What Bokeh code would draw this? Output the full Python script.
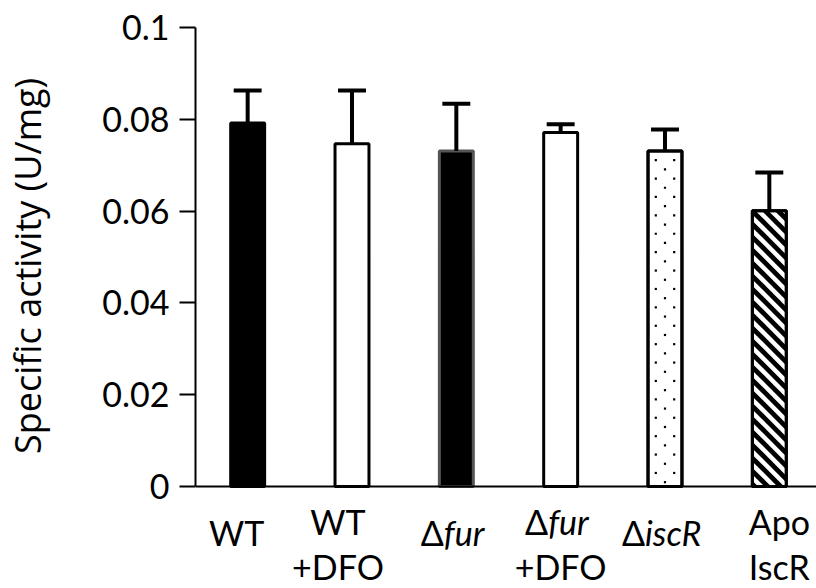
from bokeh.plotting import figure
from bokeh.models import Range1d, FixedTicker, ColumnDataSource, Span
from bokeh.core.properties import value
from bokeh.embed import file_html
from bokeh.resources import INLINE

# ---- data ----
categories = ["WT", "WT +DFO", "Δfur", "Δfur +DFO", "ΔiscR", "Apo IscR"]
values = [0.0792, 0.0747, 0.0731, 0.0771, 0.0731, 0.0601]
upper_err = [0.0071, 0.0116, 0.0103, 0.0018, 0.0047, 0.0083]
y_ticks = [0, 0.02, 0.04, 0.06, 0.08, 0.1]
y_tick_labels = ["0", "0.02", "0.04", "0.06", "0.08", "0.1"]
y_title = "Specific activity (U/mg)"
# label lines per category: list of lines; each line = list of (text, italic)
x_label_lines = [
    [[("WT", False)]],
    [[("WT", False)], [("+DFO", False)]],
    [[("Δ", False), ("fur", True)]],
    [[("Δ", False), ("fur", True)], [("+DFO", False)]],
    [[("Δ", False), ("iscR", True)]],
    [[("Apo", False)], [("IscR", False)]],
]

# ---- styles ----
fills = ["black", "white", "black", "white", "white", "white"]
outlines = ["black", "black", "#555555", "black", "black", "black"]
patterns = [None, None, None, None, "dots", "stripes"]
label_center_px = [-11, -14, 0, 0, 0, 10]
seg_anchor_px = {"fur": -12.5, "iscR": -20}
FONT = "Lato"
FS = "34px"
DOT_STEP = 9.2        # px between dot rows (staggered)
STRIPE_PERIOD = 13.0  # px, vertical period of diagonal stripes
STRIPE_BLACK = 6.8    # px, vertical thickness of black stripe
# label baselines, px below the zero line
BASE_SINGLE = 46
BASE_LINES = [35, 80]
TITLE_PAD = 9         # non-breaking spaces that lift the rotated y title

W, H = 816, 588
LEFT, RIGHT, TOP = 194, 0, 27
AXIS_PX = 459            # pixel height from 0 to 0.1
frame_w = W - LEFT - RIGHT
frame_h = H - TOP
cat_px = 104.5
x_end = frame_w / cat_px
Y_END = 0.1
ypx = Y_END / AXIS_PX    # data units per pixel (y)
y_start = -(frame_h - AXIS_PX) * ypx

p = figure(width=W, height=H, output_backend="svg", toolbar_location=None,
           x_range=Range1d(0, x_end), y_range=Range1d(y_start, Y_END),
           x_axis_location=None,
           min_border_left=LEFT, min_border_right=RIGHT,
           min_border_top=TOP, min_border_bottom=0)
p.outline_line_color = None
p.grid.visible = False

xs = [i + 0.5 for i in range(len(categories))]
BAR_PX = 34
bar_w = BAR_PX / cat_px

# bar fills
for i in range(len(categories)):
    src = ColumnDataSource(dict(x=[xs[i]], top=[values[i]]))
    p.vbar(x="x", top="top", bottom=0, width=bar_w, source=src,
           fill_color=fills[i], line_color=outlines[i], line_width=3)


def clip(poly, f):
    out = []
    n = len(poly)
    for k in range(n):
        a, b = poly[k], poly[(k + 1) % n]
        fa, fb = f(a), f(b)
        if fa >= 0:
            out.append(a)
        if (fa >= 0) != (fb >= 0):
            t = fa / (fa - fb)
            out.append((a[0] + t * (b[0] - a[0]), a[1] + t * (b[1] - a[1])))
    return out


def to_data(i, u, v):
    return xs[i] - bar_w / 2 + u / cat_px, values[i] - v * ypx


# fill patterns, derived from each bar's geometry
for i, pat in enumerate(patterns):
    if pat is None:
        continue
    bh = values[i] / ypx
    if pat == "stripes":
        pxs, pys = [], []
        rect = [(0, 0), (BAR_PX, 0), (BAR_PX, bh), (0, bh)]
        k = -int(BAR_PX / STRIPE_PERIOD) - 2
        while k * STRIPE_PERIOD < bh + 2:
            c1 = k * STRIPE_PERIOD - 3
            c2 = c1 + STRIPE_BLACK
            poly = clip(rect, lambda q, c1=c1: (q[1] - q[0]) - c1)
            poly = clip(poly, lambda q, c2=c2: c2 - (q[1] - q[0]))
            if len(poly) >= 3:
                pts = [to_data(i, u, v) for u, v in poly]
                pxs.append([a for a, _ in pts])
                pys.append([b for _, b in pts])
            k += 1
        p.patches(pxs, pys, fill_color="black", line_color=None)
    elif pat == "dots":
        dx, dy = [], []
        k = 0
        while DOT_STEP * (k + 1) < bh - 3:
            v = DOT_STEP * (k + 1)
            us = [BAR_PX / 2 - DOT_STEP, BAR_PX / 2 + DOT_STEP] if k % 2 == 0 else [BAR_PX / 2]
            for u in us:
                a, b = to_data(i, u, v)
                dx.append(a)
                dy.append(b)
            k += 1
        p.scatter(dx, dy, marker="square", size=2.2, fill_color="black",
                  line_color=None)
    p.vbar(x=[xs[i]], top=[values[i]], bottom=0, width=bar_w,
           fill_color=None, line_color=outlines[i], line_width=3)

# error bars (upper only)
err_top = [v + e for v, e in zip(values, upper_err)]
cap_half = 14 / cat_px
p.segment(x0=xs, y0=values, x1=xs, y1=err_top, line_color="black",
          line_width=4, line_cap="butt")
p.segment(x0=[x - cap_half for x in xs], y0=err_top,
          x1=[x + cap_half for x in xs], y1=err_top,
          line_color="black", line_width=4, line_cap="butt")

# x axis base line at zero
p.add_layout(Span(location=0, dimension="width", line_color="black", line_width=2))

# y axis
ya = p.yaxis[0]
ya.bounds = (0, Y_END)
ya.ticker = FixedTicker(ticks=y_ticks)
ya.major_label_overrides = {t: l for t, l in zip(y_ticks, y_tick_labels)}
ya.minor_tick_line_color = None
ya.major_tick_in = 0
ya.major_tick_out = 16
ya.major_tick_line_width = 2
ya.axis_line_width = 2
ya.major_label_text_font = FONT
ya.major_label_text_font_size = FS
ya.major_label_text_color = "black"
ya.major_label_standoff = 10
ya.axis_label = "\u00a0" * TITLE_PAD + y_title
ya.axis_label_text_font = "Open Sans"
ya.axis_label_text_font_size = "36px"
ya.axis_label_text_font_style = "normal"
ya.axis_label_text_color = "black"
ya.axis_label_standoff = 47

# category labels below the zero line
groups = {}


def add(key, x, y, xo, t):
    g = groups.setdefault(key, dict(x=[], y=[], xo=[], t=[]))
    g["x"].append(x); g["y"].append(y); g["xo"].append(xo); g["t"].append(t)


for i, lines in enumerate(x_label_lines):
    baselines = [BASE_SINGLE] if len(lines) == 1 else BASE_LINES
    for line, bl in zip(lines, baselines):
        y = -bl * ypx
        if len(line) == 1:
            txt, it = line[0]
            add(("center", it), xs[i], y, label_center_px[i], txt)
        else:
            (t1, i1), (t2, i2) = line
            anchor = label_center_px[i] + seg_anchor_px[t2]
            add(("right", i1), xs[i], y, anchor, t1)
            add(("left", i2), xs[i], y, anchor, t2)

for (align, it), g in groups.items():
    src = ColumnDataSource(g)
    p.text(x="x", y="y", text="t", x_offset="xo", source=src,
           text_font=value(FONT), text_font_size=FS,
           text_font_style="italic" if it else "normal",
           text_align=align, text_baseline="alphabetic", text_color="black")

open("out.html", "w").write(file_html(p, INLINE))
